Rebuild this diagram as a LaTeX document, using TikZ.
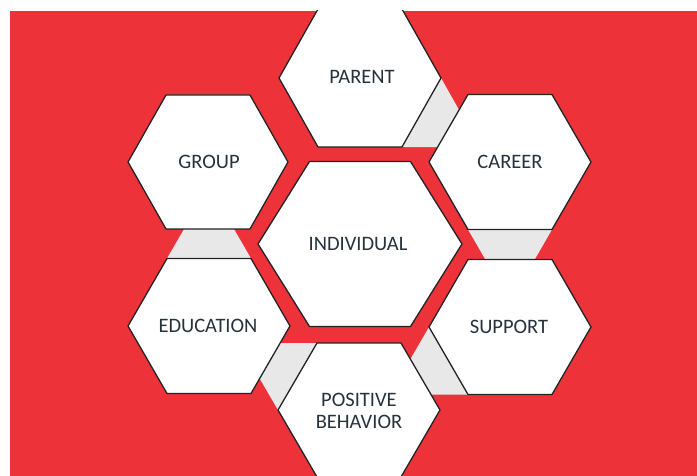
\documentclass[tikz,border=0pt]{standalone}
\usepackage{fontspec}
\setmainfont{Carlito}
\definecolor{bgred}{RGB}{238,50,58}
\definecolor{conngray}{RGB}{232,232,232}
\definecolor{hexedge}{RGB}{35,35,35}
\definecolor{txt}{RGB}{40,50,60}
\newcommand\hexpts[6]{%
  \coordinate (#1-L)  at ({#2-#4},#3);
  \coordinate (#1-TL) at ({#2-#6},{#3-#5});
  \coordinate (#1-TR) at ({#2+#6},{#3-#5});
  \coordinate (#1-R)  at ({#2+#4},#3);
  \coordinate (#1-BR) at ({#2+#6},{#3+#5});
  \coordinate (#1-BL) at ({#2-#6},{#3+#5});
  \coordinate (#1-C)  at (#2,#3);
}
\newcommand\hexdraw[1]{\filldraw[hexbox] (#1-L) -- (#1-TL) -- (#1-TR) -- (#1-R) -- (#1-BR) -- (#1-BL) -- cycle;}
\tikzset{
  hexbox/.style={fill=white, draw=hexedge, line width=1.3pt, line join=miter},
  conn/.style={fill=conngray, draw=none},
  lbl/.style={text=txt, font=\fontsize{20.5}{22}\selectfont, align=center, inner sep=0pt}
}
\begin{document}
\begin{tikzpicture}[x=1pt,y=-1pt]
\useasboundingbox (0,0) rectangle (697,476);
\fill[white] (0,0) rectangle (697,476);
\fill[bgred] (10,11) rectangle (697,476);
\begin{scope}
\clip (10,11) rectangle (697,476);
\hexpts{P}{360}{78}{81}{69}{42}
\hexpts{G}{208}{162}{80}{67}{42}
\hexpts{C}{510}{162}{81}{67.5}{42}
\hexpts{I}{360}{244}{102}{82.5}{50.5}
\hexpts{E}{209}{326}{81}{67.5}{42}
\hexpts{S}{510}{327}{81}{67.5}{42}
\hexpts{B}{359}{410}{81}{67}{42}
% grey connectors
\fill[conn] (P-R) -- (intersection of P-TR--P-R and C-L--C-TL)
  -- (intersection of P-BL--P-BR and C-L--C-TL) -- (P-BR) -- cycle;
\fill[conn] (E-TL) -- (E-TR) -- (intersection of E-R--E-TR and G-BL--G-BR)
  -- (intersection of E-L--E-TL and G-BL--G-BR) -- cycle;
\fill[conn] (C-BL) -- (C-BR) -- (intersection of C-R--C-BR and S-TL--S-TR)
  -- (intersection of C-L--C-BL and S-TL--S-TR) -- cycle;
\fill[conn] (B-TL) -- (B-L) -- (intersection of B-BL--B-L and E-R--E-BR)
  -- (intersection of B-TR--B-TL and E-R--E-BR) -- cycle;
\fill[conn] (S-L) -- (S-BL) -- (intersection of S-BL--S-BR and B-TR--B-R)
  -- (intersection of S-TL--S-L and B-TR--B-R) -- cycle;
% hexagons
\hexdraw{P}
\hexdraw{G}
\hexdraw{C}
\hexdraw{I}
\hexdraw{E}
\hexdraw{S}
\hexdraw{B}
\end{scope}
% labels
\node[lbl] (parent) at (362,77) {PARENT};
\node[lbl] (group) at (209,162) {GROUP};
\node[lbl] (career) at (510,162) {CAREER};
\node[lbl] (individual) at (358,244) {INDIVIDUAL};
\node[lbl] (education) at (208,326) {EDUCATION};
\node[lbl] (support) at (509,327) {SUPPORT};
\node[lbl] (positive) at (359,411) {POSITIVE\\BEHAVIOR};
\end{tikzpicture}
\end{document}
